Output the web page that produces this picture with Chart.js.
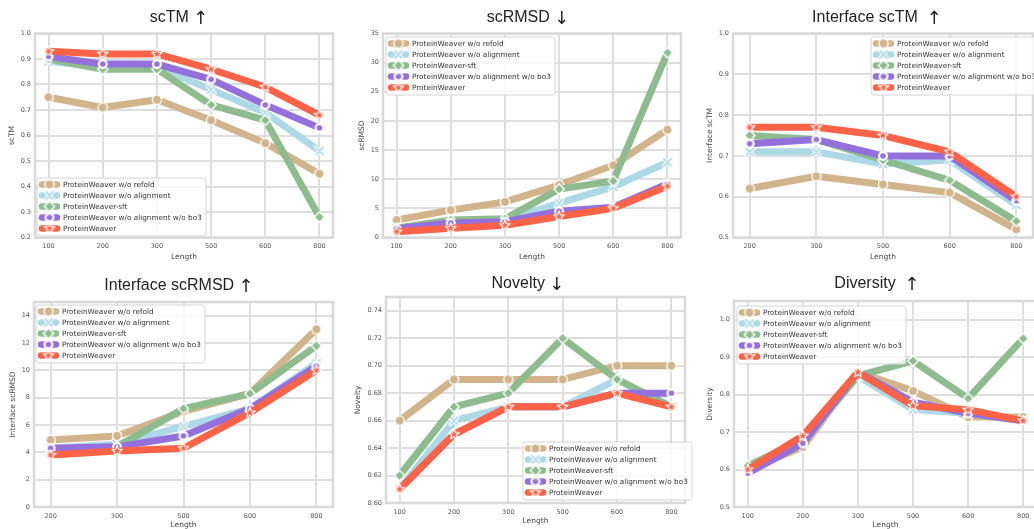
<!DOCTYPE html>
<html lang="en">
<head>
<meta charset="UTF-8">
<title>ProteinWeaver ablation by length</title>
<script src="https://cdn.jsdelivr.net/npm/chart.js"></script>
<style>
  html, body { margin: 0; padding: 0; background: #fff; overflow: hidden; }
  body { width: 1034px; height: 529px; position: relative; }
  canvas.panel { position: absolute; }
</style>
</head>
<body>
<canvas id="p1" class="panel"></canvas>
<canvas id="p2" class="panel"></canvas>
<canvas id="p3" class="panel"></canvas>
<canvas id="p4" class="panel"></canvas>
<canvas id="p5" class="panel"></canvas>
<canvas id="p6" class="panel"></canvas>
<script>
// ---- data ----
const seriesNames = ['ProteinWeaver w/o refold', 'ProteinWeaver w/o alignment', 'ProteinWeaver-sft',
                     'ProteinWeaver w/o alignment w/o bo3', 'ProteinWeaver'];
const lengthsA = ['100', '200', '300', '500', '600', '800'];
const lengthsB = ['200', '300', '500', '600', '800'];

const scTMRefold = [0.75, 0.71, 0.74, 0.66, 0.57, 0.45];
const scTMAlign  = [0.89, 0.87, 0.87, 0.78, 0.69, 0.54];
const scTMSft    = [0.90, 0.86, 0.86, 0.72, 0.66, 0.28];
const scTMBo3    = [0.91, 0.88, 0.88, 0.82, 0.72, 0.63];
const scTMPW     = [0.93, 0.92, 0.92, 0.86, 0.79, 0.68];

const rmsdRefold = [3.0, 4.7, 6.1, 9.0, 12.4, 18.5];
const rmsdAlign  = [1.6, 2.8, 2.9, 5.9, 8.7, 12.9];
const rmsdSft    = [1.6, 3.0, 3.2, 8.3, 9.7, 31.7];
const rmsdBo3    = [1.5, 2.5, 2.7, 4.5, 5.2, 9.2];
const rmsdPW     = [1.0, 1.6, 2.1, 3.6, 5.0, 8.8];

const iTMRefold = [0.62, 0.65, 0.63, 0.61, 0.52];
const iTMAlign  = [0.71, 0.71, 0.68, 0.69, 0.58];
const iTMSft    = [0.75, 0.74, 0.69, 0.64, 0.54];
const iTMBo3    = [0.73, 0.74, 0.70, 0.70, 0.59];
const iTMPW     = [0.77, 0.77, 0.75, 0.71, 0.60];

const iRmsdRefold = [4.9, 5.2, 7.0, 8.3, 13.0];
const iRmsdAlign  = [4.3, 4.6, 5.9, 7.2, 10.5];
const iRmsdSft    = [4.2, 4.4, 7.2, 8.3, 11.8];
const iRmsdBo3    = [4.3, 4.4, 5.2, 7.2, 10.3];
const iRmsdPW     = [3.8, 4.1, 4.3, 6.9, 10.0];

const novRefold = [0.66, 0.69, 0.69, 0.69, 0.70, 0.70];
const novAlign  = [0.61, 0.66, 0.67, 0.67, 0.69, 0.67];
const novSft    = [0.62, 0.67, 0.68, 0.72, 0.69, 0.67];
const novBo3    = [0.61, 0.65, 0.67, 0.67, 0.68, 0.68];
const novPW     = [0.61, 0.65, 0.67, 0.67, 0.68, 0.67];

const divRefold = [0.60, 0.66, 0.86, 0.81, 0.74, 0.74];
const divAlign  = [0.60, 0.67, 0.85, 0.76, 0.75, 0.73];
const divSft    = [0.61, 0.68, 0.85, 0.89, 0.79, 0.95];
const divBo3    = [0.59, 0.67, 0.86, 0.78, 0.75, 0.73];
const divPW     = [0.60, 0.69, 0.86, 0.77, 0.76, 0.73];

const scTMTicks   = [0.2, 0.3, 0.4, 0.5, 0.6, 0.7, 0.8, 0.9, 1.0];
const rmsdTicks   = [0, 5, 10, 15, 20, 25, 30, 35];
const iTMTicks    = [0.5, 0.6, 0.7, 0.8, 0.9, 1.0];
const iRmsdTicks  = [0, 2, 4, 6, 8, 10, 12, 14];
const novTicks    = [0.60, 0.62, 0.64, 0.66, 0.68, 0.70, 0.72, 0.74];
const divTicks    = [0.5, 0.6, 0.7, 0.8, 0.9, 1.0];

// ---- styling ----
const colors = ['#D2B48C', '#ADD8E6', '#8FBC8F', '#9370DB', '#FF6347'];
const gridColor = '#dedede';

function markerCanvas(kind, color) {
  const c = document.createElement('canvas');
  c.width = 14; c.height = 14;
  const g = c.getContext('2d');
  g.translate(7, 7);
  g.fillStyle = color;
  g.strokeStyle = '#fff';
  g.lineJoin = 'round';
  if (kind === 'circle') {
    g.beginPath(); g.arc(0, 0, 4.6, 0, Math.PI * 2);
    g.fill(); g.lineWidth = 1.4; g.stroke();
  } else if (kind === 'x') {
    g.lineCap = 'round';
    g.beginPath(); g.moveTo(-3.6, -3.6); g.lineTo(3.6, 3.6); g.moveTo(3.6, -3.6); g.lineTo(-3.6, 3.6);
    g.lineWidth = 4; g.stroke();
    g.strokeStyle = color; g.lineWidth = 1.8; g.stroke();
  } else if (kind === 'diamond') {
    g.beginPath(); g.moveTo(0, -5.2); g.lineTo(5.2, 0); g.lineTo(0, 5.2); g.lineTo(-5.2, 0); g.closePath();
    g.fill(); g.lineWidth = 1.4; g.stroke();
  } else if (kind === 'dot') {
    g.beginPath(); g.arc(0, 0, 5, 0, Math.PI * 2);
    g.fillStyle = '#fff'; g.fill();
    g.beginPath(); g.arc(0, 0, 2.8, 0, Math.PI * 2);
    g.fillStyle = color; g.fill();
  } else if (kind === 'star') {
    g.beginPath();
    for (let k = 0; k < 10; k++) {
      const r = k % 2 === 0 ? 5.6 : 2.4;
      const a = -Math.PI / 2 + k * Math.PI / 5;
      g.lineTo(r * Math.cos(a), r * Math.sin(a));
    }
    g.closePath();
    g.fill(); g.lineWidth = 1.2; g.stroke();
  }
  return c;
}
const markers = [
  markerCanvas('circle', colors[0]),
  markerCanvas('x', colors[1]),
  markerCanvas('diamond', colors[2]),
  markerCanvas('dot', colors[3]),
  markerCanvas('star', colors[4])
];

// ---- panel layout (page coordinates) ----
const panels = [
  { id: 'p1', cell: [0, 0, 345, 265], plot: [35, 33.5, 343, 237.5],
    title: 'scTM ↑', titleAt: [179, 22], yLabel: 'scTM', yLabelX: 12, xLabelY: 257,
    cats: lengthsA, ticks: scTMTicks, min: 0.2, max: 1.0, dec: 1, legendAt: [37, 178],
    series: [scTMRefold, scTMAlign, scTMSft, scTMBo3, scTMPW] },
  { id: 'p2', cell: [345, 0, 348, 265], plot: [383, 33.5, 691, 237.5],
    title: 'scRMSD ↓', titleAt: [528, 22], yLabel: 'scRMSD', yLabelX: 362, xLabelY: 257,
    cats: lengthsA, ticks: rmsdTicks, min: 0, max: 35, dec: 0, legendAt: [386, 37],
    series: [rmsdRefold, rmsdAlign, rmsdSft, rmsdBo3, rmsdPW] },
  { id: 'p3', cell: [693, 0, 352, 265], plot: [733, 33.5, 1041, 237.5],
    title: 'Interface scTM  ↑', titleAt: [877, 22], yLabel: 'Interface scTM', yLabelX: 710, xLabelY: 257,
    cats: lengthsB, ticks: iTMTicks, min: 0.5, max: 1.0, dec: 1, legendAt: [871, 37],
    series: [iTMRefold, iTMAlign, iTMSft, iTMBo3, iTMPW] },
  { id: 'p4', cell: [0, 265, 345, 264], plot: [34, 302, 342, 507],
    title: 'Interface scRMSD ↑', titleAt: [179, 290], yLabel: 'Interface scRMSD', yLabelX: 13, xLabelY: 525,
    cats: lengthsB, ticks: iRmsdTicks, min: 0, max: 15, dec: 0, legendAt: [36, 305],
    series: [iRmsdRefold, iRmsdAlign, iRmsdSft, iRmsdBo3, iRmsdPW] },
  { id: 'p5', cell: [345, 265, 352, 264], plot: [386, 297, 694, 503],
    title: 'Novelty ↓', titleAt: [528, 288], yLabel: 'Novelty', yLabelX: 358, xLabelY: 521,
    cats: lengthsA, ticks: novTicks, min: 0.60, max: 0.75, dec: 2, legendAt: [523, 442],
    series: [novRefold, novAlign, novSft, novBo3, novPW] },
  { id: 'p6', cell: [697, 265, 352, 264], plot: [734, 301, 1042, 507],
    title: 'Diversity  ↑', titleAt: [877, 288], yLabel: 'Diversity', yLabelX: 710, xLabelY: 525,
    cats: lengthsA, ticks: divTicks, min: 0.5, max: 1.05, dec: 1, legendAt: [737, 306],
    series: [divRefold, divAlign, divSft, divBo3, divPW] }
];

const tickFont = { family: 'DejaVu Sans', size: 6.5 };
const labelFont = { family: 'DejaVu Sans', size: 7.5, lineHeight: 1.2 };
const labelLH = 7.5 * 1.2;

function makeChart(p) {
  const [cl, ct, cw, ch] = p.cell;
  const [pl, pt, pr, pb] = p.plot;
  const canvas = document.getElementById(p.id);
  canvas.width = cw; canvas.height = ch;
  canvas.style.left = cl + 'px'; canvas.style.top = ct + 'px';
  canvas.style.width = cw + 'px'; canvas.style.height = ch + 'px';

  // frame around the axes
  const framePlugin = {
    id: 'frame' + p.id,
    beforeDatasetsDraw(chart) {
      const a = chart.chartArea, ctx = chart.ctx;
      ctx.save();
      ctx.strokeStyle = '#d9d9d9';
      ctx.lineWidth = 2.5;
      ctx.strokeRect(a.left, a.top, a.right - a.left, a.bottom - a.top);
      ctx.restore();
    }
  };

  // title: words in Liberation Sans, the arrow drawn a bit larger
  const titlePlugin = {
    id: 'title' + p.id,
    afterDraw(chart) {
      const ctx = chart.ctx;
      const m = p.title.match(/^(.*?)(\s+)(\S)$/);
      const words = m[1], gap = m[2], arrow = m[3];
      const wordFont = '16px "Liberation Sans", Arial, sans-serif';
      const arrowFont = '18px "DejaVu Sans", sans-serif';
      ctx.save();
      ctx.font = wordFont;
      const w1 = ctx.measureText(words + gap).width;
      ctx.font = arrowFont;
      const w2 = ctx.measureText(arrow).width;
      let x = p.titleAt[0] - cl - (w1 + w2) / 2;
      const y = p.titleAt[1] - ct;
      ctx.fillStyle = '#222';
      ctx.textAlign = 'left';
      ctx.textBaseline = 'alphabetic';
      ctx.font = wordFont;
      ctx.fillText(words, x, y);
      ctx.font = arrowFont;
      ctx.fillText(arrow, x + w1, y + 2);
      ctx.restore();
    }
  };

  // boxed legend inside the axes
  const legendPlugin = {
    id: 'legend' + p.id,
    afterDatasetsDraw(chart) {
      const ctx = chart.ctx;
      const x = p.legendAt[0] - cl, y = p.legendAt[1] - ct, w = 169, h = 58;
      ctx.save();
      ctx.beginPath();
      ctx.roundRect(x, y, w, h, 2.5);
      ctx.fillStyle = 'rgba(255,255,255,0.8)';
      ctx.fill();
      ctx.strokeStyle = '#d4d4d4';
      ctx.lineWidth = 1;
      ctx.stroke();
      chart.data.datasets.forEach((ds, i) => {
        const cy = y + 6.5 + i * 11;
        ctx.strokeStyle = ds.borderColor;
        ctx.lineWidth = 6.5;
        ctx.lineCap = 'round';
        ctx.beginPath(); ctx.moveTo(x + 5, cy); ctx.lineTo(x + 20, cy); ctx.stroke();
        const mk = ds.pointStyle;
        ctx.drawImage(mk, x + 12.5 - mk.width / 2, cy - mk.height / 2);
        ctx.fillStyle = '#333';
        ctx.font = '7.3px "DejaVu Sans"';
        ctx.textAlign = 'left';
        ctx.textBaseline = 'middle';
        ctx.fillText(ds.label, x + 26, cy + 0.5);
      });
      ctx.restore();
    }
  };

  const datasets = p.series.map((vals, i) => ({
    label: seriesNames[i],
    data: vals.map((v, k) => ({ x: k, y: v })),
    borderColor: colors[i],
    backgroundColor: colors[i],
    borderWidth: 7,
    borderJoinStyle: 'round',
    borderCapStyle: 'round',
    pointStyle: markers[i],
    pointRadius: 5,
    order: 5 - i
  }));

  return new Chart(canvas, {
    type: 'line',
    data: { datasets },
    options: {
      responsive: false,
      devicePixelRatio: 1,
      animation: false,
      layout: { padding: { left: 0, top: pt - ct, right: cl + cw - pr, bottom: 0 } },
      plugins: { legend: { display: false }, tooltip: { enabled: false } },
      scales: {
        x: {
          type: 'linear',
          min: -0.25,
          max: p.cats.length - 0.75,
          afterBuildTicks: (s) => { s.ticks = p.cats.map((c, k) => ({ value: k })); },
          afterFit: (s) => { s.height = ct + ch - pb; },
          ticks: { callback: (v) => p.cats[v], font: tickFont, color: '#555', padding: 5, maxRotation: 0 },
          grid: { color: gridColor, lineWidth: 2, drawTicks: false },
          border: { display: false },
          title: { display: true, text: 'Length', font: labelFont, color: '#444',
                   padding: { top: 0, bottom: ct + ch - p.xLabelY - labelLH / 2 } }
        },
        y: {
          type: 'linear',
          min: p.min,
          max: p.max,
          afterBuildTicks: (s) => { s.ticks = p.ticks.map(v => ({ value: v })); },
          afterFit: (s) => { s.width = pl - cl; },
          ticks: { callback: (v) => Number(v).toFixed(p.dec), font: tickFont, color: '#555', padding: 4 },
          grid: { color: gridColor, lineWidth: 2, drawTicks: false },
          border: { display: false },
          title: { display: true, text: p.yLabel, font: labelFont, color: '#444',
                   padding: { top: p.yLabelX - cl - labelLH / 2, bottom: 0 } }
        }
      }
    },
    plugins: [framePlugin, legendPlugin, titlePlugin]
  });
}

panels.forEach(makeChart);
</script>
</body>
</html>
